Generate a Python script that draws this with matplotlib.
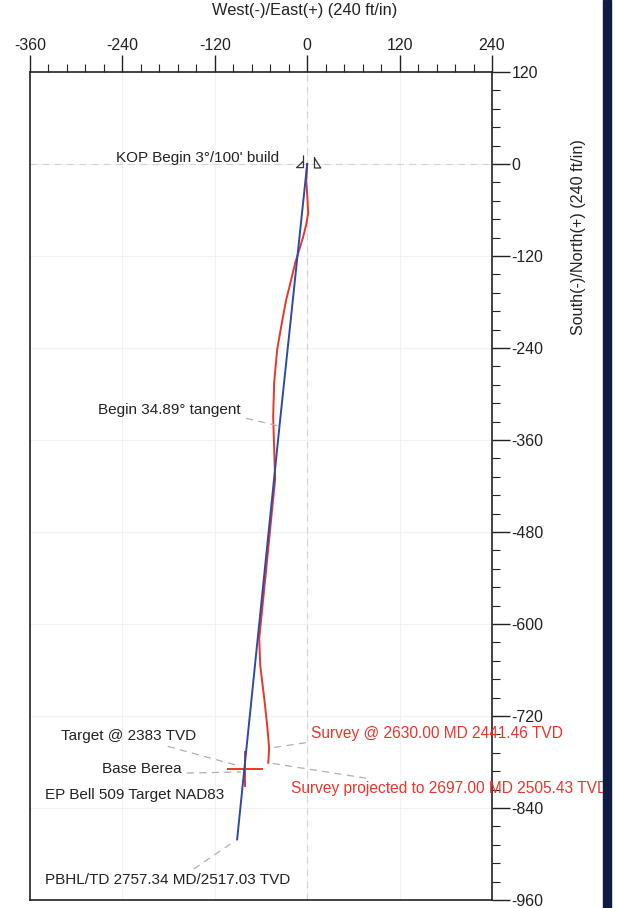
import matplotlib
matplotlib.use('Agg')
import matplotlib.pyplot as plt
from matplotlib.path import Path
from matplotlib.patches import Rectangle
from matplotlib.ticker import MultipleLocator

# plan well path (blue), West(-)/East(+) and South(-)/North(+) in ft
plan_ew = [0.0, -36.0, -91.0]
plan_ns = [0.0, -342.0, -881.0]

# surveyed well path (red)
survey_ew = [0.0, -1.3, 0.0, 1.3, -1.3, -5.2, -10.4, -15.6, -20.8, -27.3, -33.8,
             -39.0, -42.9, -44.2, -42.9, -41.6, -46.8, -53.2, -59.7, -62.3, -61.0,
             -55.8, -52.0, -49.4, -50.6]
survey_ns = [0.0, -21.0, -40.0, -64.0, -79.0, -95.0, -112.0, -129.0, -151.0, -177.0,
             -212.0, -242.0, -285.0, -329.0, -372.0, -411.0, -463.0, -528.0, -593.0,
             -619.0, -654.0, -697.0, -732.0, -762.0, -781.0]

# target (Base Berea / EP Bell 509)
target_ew, target_ns, target_r = -81.0, -789.0, 23.0

plt.rcParams['font.family'] = ['Liberation Sans', 'DejaVu Sans']
plt.rcParams['axes.unicode_minus'] = False

fig = plt.figure(figsize=(6.17, 9.08), dpi=100)
ax = fig.add_axes([30 / 617, 8 / 908, 462 / 617, 828 / 908])
ax.set_xlim(-360, 240)
ax.set_ylim(-960, 120)

# faint grid
for v in range(-240, 240, 120):
    ax.axvline(v, color='#f2f2f2', lw=0.8, zorder=0)
for v in range(-840, 120, 120):
    ax.axhline(v, color='#f2f2f2', lw=0.8, zorder=0)
ax.axvline(0, color='#d4d4d4', lw=0.8, ls=(0, (6, 5)), zorder=0)
ax.axhline(0, color='#d4d4d4', lw=0.8, ls=(0, (6, 5)), zorder=0)

# ticks
ax.xaxis.tick_top()
ax.yaxis.tick_right()
ax.xaxis.set_major_locator(MultipleLocator(120))
ax.xaxis.set_minor_locator(MultipleLocator(24))
ax.yaxis.set_major_locator(MultipleLocator(120))
ax.yaxis.set_minor_locator(MultipleLocator(24))
ax.tick_params(which='major', direction='out', length=12, width=1.0,
               labelsize=11.5, colors='#222222', pad=2)
ax.tick_params(which='minor', direction='out', length=6, width=0.8, colors='#222222')
ax.tick_params(axis='y', which='major', length=13, pad=1)
for s in ax.spines.values():
    s.set_linewidth(1.2)
    s.set_color('#222222')

# well paths
ax.plot(survey_ew, survey_ns, color='#e8362c', lw=1.4, zorder=3)
ax.hlines(target_ns, target_ew - target_r, target_ew + target_r, color='#e8362c', lw=1.4, zorder=3)
ax.vlines(target_ew, target_ns - target_r, target_ns + target_r, color='#e8362c', lw=1.4, zorder=3)
ax.plot(plan_ew, plan_ns, color='#2c4aa8', lw=1.4, zorder=4)

# KOP symbols
mark_a = Path([(0, 0.5), (0, -0.5), (-0.57, -0.5), (0, 0.03)],
              [Path.MOVETO, Path.LINETO, Path.LINETO, Path.LINETO])
mark_b = Path([(0, 0.5), (0, -0.5), (0.57, -0.5), (0, 0.4)],
              [Path.MOVETO, Path.LINETO, Path.LINETO, Path.LINETO])
ax.plot(plan_ew[0] - 5.5, plan_ns[0] + 4, marker=mark_a, ms=10, mfc='none',
        mec='#333333', mew=0.9, zorder=5)
ax.plot(plan_ew[0] + 8.5, plan_ns[0] + 3, marker=mark_b, ms=9, mfc='none',
        mec='#333333', mew=0.9, zorder=5)

lead = dict(arrowstyle='-', color='#b0b0b0', lw=0.9, ls=(0, (5, 5)))
txt = dict(fontsize=11, color='#222222', va='center')
red_txt = dict(fontsize=11.2, color='#e8362c', va='center')

ax.text(-37, 8, "KOP Begin 3°/100' build", ha='right', **txt)
ax.annotate('Begin 34.89° tangent', xy=(plan_ew[1], plan_ns[1]), xytext=(-86, -321),
            ha='right', arrowprops=dict(lead, relpos=(1.0, 0.0)), **txt)
ax.annotate('Target @ 2383 TVD', xy=(target_ew - 8, target_ns + 4), xytext=(-320, -746),
            ha='left', arrowprops=dict(lead, relpos=(0.7, 0.0)), **txt)
ax.annotate('Base Berea', xy=(target_ew - 2, target_ns - 4), xytext=(-163, -789),
            ha='right', arrowprops=dict(lead, relpos=(1.0, 0.2)), **txt)
ax.text(-340, -823, 'EP Bell 509 Target NAD83', ha='left', **txt)
ax.annotate('PBHL/TD 2757.34 MD/2517.03 TVD', xy=(plan_ew[2], plan_ns[2]), xytext=(-340, -934),
            ha='left', arrowprops=dict(lead, relpos=(0.58, 1.0)), **txt)
ax.annotate('Survey @ 2630.00 MD 2441.46 TVD', xy=(survey_ew[-2], survey_ns[-2]),
            xytext=(5, -743), ha='left', arrowprops=dict(lead, relpos=(0.02, 0.0)), **red_txt)
ax.annotate('Survey projected to 2697.00 MD 2505.43 TVD', xy=(survey_ew[-1], survey_ns[-1]),
            xytext=(-21, -815), ha='left', annotation_clip=False,
            arrowprops=dict(lead, relpos=(0.3, 1.0)), **red_txt)

# axis titles
fig.text(305 / 617, 1 - 11 / 908, 'West(-)/East(+) (240 ft/in)', ha='center', va='center',
         fontsize=11.8, color='#222222')
fig.text(578 / 617, 1 - 237 / 908, 'South(-)/North(+) (240 ft/in)', ha='center', va='center',
         rotation=90, fontsize=11.6, color='#222222')

# dark page edge on the right of the scan
fig.add_artist(Rectangle((603 / 617, 0), 8 / 617, 1, transform=fig.transFigure,
                         color='#0f1b44', zorder=10))

fig.savefig('out.png', dpi=100)
